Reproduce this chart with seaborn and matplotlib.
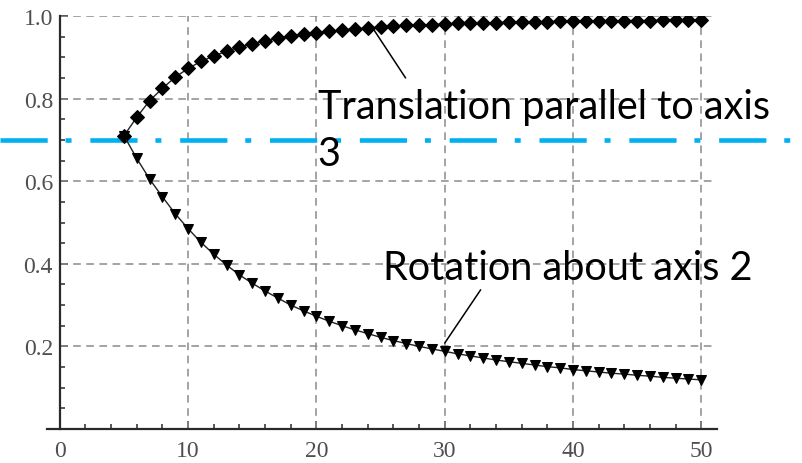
import matplotlib
matplotlib.use("Agg")
import matplotlib.pyplot as plt
import matplotlib.transforms as mtransforms
from matplotlib.lines import Line2D
from matplotlib.ticker import MultipleLocator
import seaborn as sns

# Step index for both response curves
steps = list(range(5, 51))

# Translation parallel to axis 3 (rises towards 1)
translation_axis3 = [
    0.710, 0.755, 0.795, 0.825, 0.852, 0.873, 0.890, 0.903, 0.915, 0.925,
    0.933, 0.940, 0.946, 0.951, 0.956, 0.960, 0.963, 0.966, 0.969, 0.971,
    0.973, 0.975, 0.977, 0.978, 0.979, 0.981, 0.982, 0.983, 0.983, 0.984,
    0.985, 0.985, 0.986, 0.986, 0.987, 0.987, 0.988, 0.988, 0.988, 0.989,
    0.989, 0.989, 0.990, 0.990, 0.990, 0.990,
]

# Rotation about axis 2 (decays)
rotation_axis2 = [
    0.710, 0.655, 0.605, 0.562, 0.521, 0.485, 0.452, 0.423, 0.397, 0.373,
    0.353, 0.334, 0.317, 0.300, 0.286, 0.273, 0.261, 0.250, 0.240, 0.231,
    0.222, 0.214, 0.207, 0.200, 0.194, 0.188, 0.182, 0.177, 0.172, 0.167,
    0.163, 0.159, 0.155, 0.151, 0.148, 0.144, 0.141, 0.138, 0.135, 0.133,
    0.130, 0.128, 0.125, 0.123, 0.121, 0.119,
]

x_ticks = [0, 10, 20, 30, 40, 50]
x_tick_labels = ["0", "10", "20", "30", "40", "50"]
y_ticks = [0.2, 0.4, 0.6, 0.8, 1.0]
y_tick_labels = ["0.2", "0.4", "0.6", "0.8", "1.0"]
threshold = 0.7

label_translation = "Translation parallel to axis\n3"
label_rotation = "Rotation about axis 2"

sns.set_theme(style="white")
plt.rcParams["font.family"] = ["Liberation Serif", "DejaVu Serif"]

fig = plt.figure(figsize=(8.03, 4.64), dpi=100)
ax = fig.add_axes([47 / 803, 34 / 464, 669.7 / 803, 413 / 464])
ax.set_xlim(-1.0, 51.2)
ax.set_ylim(0.0, 1.0)

# dashed grid
grid_kw = dict(color="#8a8a8a", lw=1.1, linestyle=(0, (5.0, 3.6)), zorder=1)
ax.hlines(y_ticks, 0, 50.8, **grid_kw)
ax.vlines(x_ticks[1:], 0, 1.0, **grid_kw)

# reference level spanning the full figure width
blend = mtransforms.blended_transform_factory(fig.transFigure, ax.transData)
ax.add_line(Line2D([0, 1], [threshold, threshold], transform=blend,
                   color="#00b0f0", lw=3.3, linestyle=(0, (10.3, 3.9, 1.3, 4.1)),
                   clip_on=False, zorder=1.8))

sns.lineplot(x=steps, y=translation_axis3, ax=ax, color="#222222", lw=1.0,
             marker="D", markersize=7.2, markerfacecolor="black",
             markeredgecolor="black", zorder=3)
sns.lineplot(x=steps, y=rotation_axis2, ax=ax, color="#222222", lw=1.0,
             marker="v", markersize=7.5, markerfacecolor="black",
             markeredgecolor="black", zorder=3)

# axes styling
for side in ("top", "right"):
    ax.spines[side].set_visible(False)
ax.spines["left"].set_position(("data", 0))
for side in ("left", "bottom"):
    ax.spines[side].set_color("#2a2a2a")
    ax.spines[side].set_linewidth(1.6)

ax.set_xticks(x_ticks)
ax.set_xticklabels(x_tick_labels)
ax.set_yticks(y_ticks)
ax.set_yticklabels(y_tick_labels)
ax.xaxis.set_minor_locator(MultipleLocator(2))
ax.yaxis.set_minor_locator(MultipleLocator(0.05))
ax.tick_params(which="both", direction="in", color="#2a2a2a", width=1.1,
               labelsize=17, labelcolor="#4f4f4f")
ax.tick_params(which="major", length=6)
ax.tick_params(which="minor", length=3.5)
ax.tick_params(axis="x", which="both", pad=8, bottom=True)
ax.tick_params(axis="y", which="both", pad=5, left=True)
ax.set_xlabel("")
ax.set_ylabel("")

# callouts (va="baseline" anchors the last line of a multi-line label)
ann_font = dict(family=["Lato", "DejaVu Sans"], fontsize=28.5, color="black")
ax.text(20.1, 0.639, label_translation, ha="left", va="baseline",
        linespacing=1.33, clip_on=False, **ann_font)
ax.text(25.17, 0.363, label_rotation, ha="left", va="baseline",
        clip_on=False, **ann_font)
leader = dict(arrowstyle="-", color="black", lw=1.1, shrinkA=0, shrinkB=0)
ax.annotate("", xy=(24.3, 0.975), xytext=(26.95, 0.85),
            arrowprops=leader, annotation_clip=False)
ax.annotate("", xy=(30.0, 0.208), xytext=(32.8, 0.337),
            arrowprops=leader, annotation_clip=False)

fig.savefig("out.png", dpi=100)
